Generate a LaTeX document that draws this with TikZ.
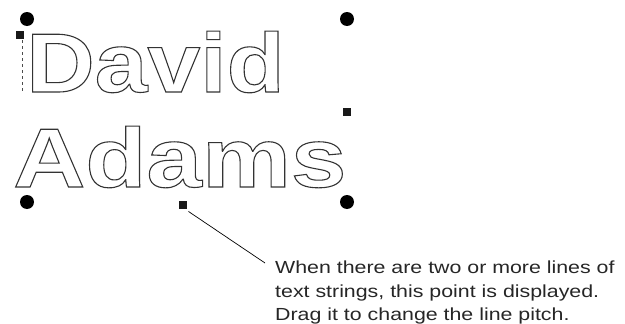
\documentclass[tikz,border=0pt]{standalone}
\usepackage{fontspec}
\setmainfont{Liberation Sans}
\newfontfamily\davidfont{Liberation Sans Bold}[FakeStretch=1.13]
\newfontfamily\adamsfont{Liberation Sans Bold}[FakeStretch=1.19]
\newfontfamily\notefont{Liberation Sans}[FakeStretch=1.22]
\tikzset{
  handle/.style={circle,fill=black,inner sep=0pt,minimum size=14pt},
  sqhandle/.style={rectangle,fill=black!90,inner sep=0pt,minimum size=8.5pt},
  outl/.style={inner sep=0pt,anchor=base west,text=black!80},
  note/.style={align=left,anchor=north west,inner sep=0pt,font=\notefont\fontsize{17.5pt}{23.5pt}\selectfont,text=black!85}
}
\newcommand{\outlinetext}[1]{\special{pdf:literal direct 1 Tr 1.1 w}#1\special{pdf:literal direct 0 Tr}}
\begin{document}
\begin{tikzpicture}[x=1pt,y=-1pt]
\useasboundingbox (0,0) rectangle (625,324);
\node[handle] (h1) at (27,19) {};
\node[handle] (h2) at (347,19) {};
\node[handle] (h3) at (27,202) {};
\node[handle] (h4) at (347,202) {};
\node[sqhandle] (s1) at (20,35) {};
\node[sqhandle] (s2) at (347,112) {};
\node[sqhandle] (s3) at (183,205) {};
\coordinate (dtop) at (22,40);
\coordinate (dbot) at (22,92);
\draw[dashed,line width=0.8pt,black!70] (dtop) -- (dbot);
\node[outl] (david) at (26,92) {\fontsize{84pt}{84pt}\davidfont\outlinetext{David}};
\node[outl] (adams) at (13,187) {\fontsize{84pt}{84pt}\adamsfont\outlinetext{Adams}};
\node[note] (txt) at (275,261) {When there are two or more lines of\\text strings, this point is displayed.\\Drag it to change the line pitch.};
\coordinate (lend) at (265,263);
\draw[line width=0.7pt] (s3.south east) ++(1,2) -- (lend);
\end{tikzpicture}
\end{document}
